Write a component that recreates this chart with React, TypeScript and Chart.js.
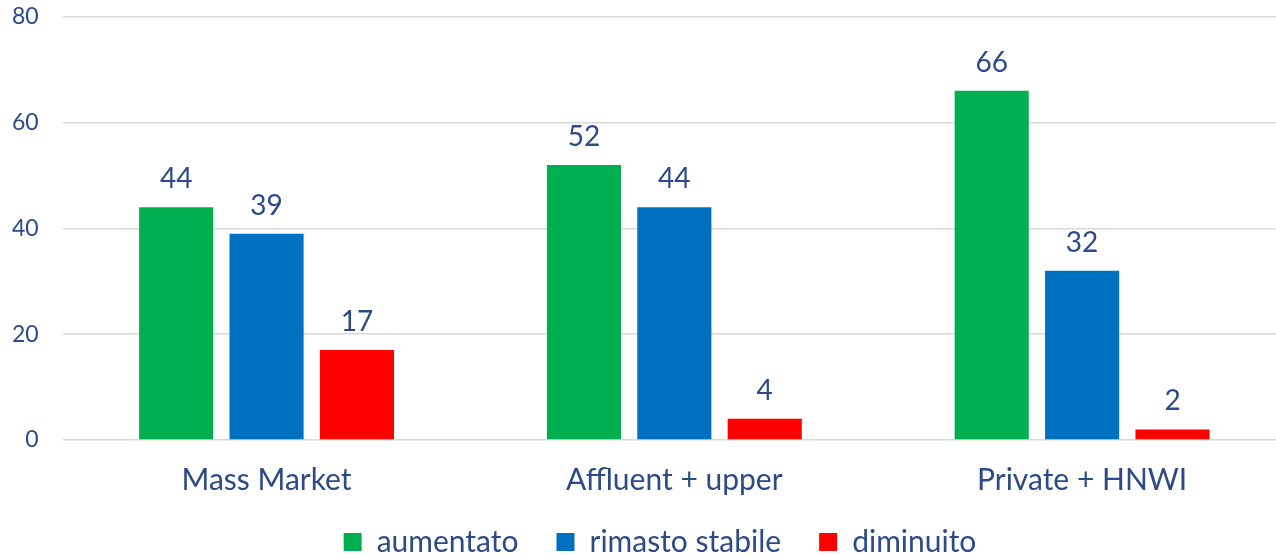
import React, { useEffect, useRef } from "react";
import { Chart, registerables } from "chart.js";

Chart.register(...registerables);

const categories = ["Mass Market", "Affluent + upper", "Private + HNWI"];
const seriesNames = ["aumentato", "rimasto stabile", "diminuito"];
const aumentato = [44, 52, 66];
const rimastoStabile = [39, 44, 32];
const diminuito = [17, 4, 2];
const yTicks = [0, 20, 40, 60, 80];

const colors = ["#00B050", "#0070C0", "#FF0000"];
const textColor = "#2B4A87";
const FONT = "Lato";

const valueLabels = {
  id: "valueLabels",
  afterLayout(chart: any) {
    // centre the legend under the whole picture and give x labels room for descenders
    if (chart.legend) {
      chart.legend.left += 23;
      chart.legend.right += 23;
    }
    if (chart.scales.x) chart.scales.x.bottom += 14;
  },
  afterDatasetsDraw(chart: any) {
    const ctx = chart.ctx;
    ctx.save();
    ctx.font = `28px ${FONT}`;
    ctx.fillStyle = textColor;
    ctx.textAlign = "center";
    ctx.textBaseline = "bottom";
    chart.data.datasets.forEach((ds: any, i: number) => {
      const meta = chart.getDatasetMeta(i);
      meta.data.forEach((bar: any, j: number) => {
        ctx.fillText(String(ds.data[j]), bar.x, bar.y - 14);
      });
    });
    ctx.restore();
  },
};

export default function App() {
  const ref = useRef<HTMLCanvasElement>(null);
  useEffect(() => {
    const chart = new Chart(ref.current!, {
      type: "bar",
      data: {
        labels: categories,
        datasets: [aumentato, rimastoStabile, diminuito].map((d, i) => ({
          label: seriesNames[i],
          data: d,
          backgroundColor: colors[i],
          categoryPercentage: 0.665,
          barPercentage: 0.82,
        })),
      },
      options: {
        responsive: false,
        animation: false,
        layout: { padding: { left: 12, top: 4, right: 58, bottom: 0 } },
        plugins: {
          tooltip: { enabled: false },
          legend: {
            position: "bottom",
            maxHeight: 66,
            labels: {
              font: { family: FONT, size: 30 },
              color: textColor,
              boxWidth: 18,
              boxHeight: 18,
              padding: 38,
            },
          },
        },
        scales: {
          x: {
            grid: { display: false },
            border: { display: false },
            ticks: { font: { family: FONT, size: 30 }, color: textColor, padding: 14 },
            afterFit: (scale: any) => {
              scale.height = 49;
            },
          },
          y: {
            min: 0,
            max: 80,
            afterBuildTicks: (axis: any) => {
              axis.ticks = yTicks.map((v) => ({ value: v }));
            },
            grid: { color: "#D9D9D9", lineWidth: 1.5, drawTicks: false },
            border: { display: false },
            ticks: { font: { family: FONT, size: 23 }, color: textColor, padding: 24 },
          },
        },
      },
      plugins: [valueLabels],
    });
    return () => chart.destroy();
  }, []);
  return (
    <div style={{ position: "absolute", left: 0, top: 0, width: 1276, height: 555, overflow: "hidden", background: "#fff" }}>
      <canvas ref={ref} width={1368} height={576} style={{ position: "absolute", left: -24, top: -21 }} />
    </div>
  );
}
